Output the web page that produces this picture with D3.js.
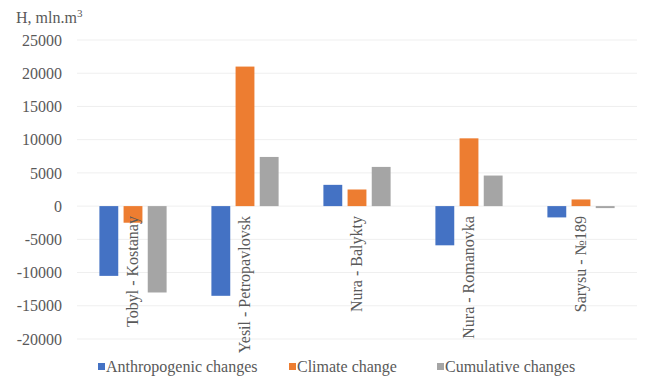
<!DOCTYPE html>
<html>
<head>
<meta charset="utf-8">
<script src="https://cdn.jsdelivr.net/npm/d3@7"></script>
<style>
  body { margin: 0; background: #fff; }
  svg { display: block; }
</style>
</head>
<body>
<svg id="chart" width="656" height="377"></svg>
<script>
// Water-resource change by river gauging station, mln. m³
const stations = ["Tobyl - Kostanay", "Yesil - Petropavlovsk", "Nura - Balykty", "Nura - Romanovka", "Sarysu - №189"];
const seriesNames = ["Anthropogenic changes", "Climate change", "Cumulative changes"];
const anthropogenic = [-10500, -13500, 3200, -5900, -1700];
const climate = [-2500, 21000, 2500, 10200, 1000];
const cumulative = [-13000, 7400, 5900, 4600, -300];
const yTicks = [25000, 20000, 15000, 10000, 5000, 0, -5000, -10000, -15000, -20000];
const colors = ["#4472C4", "#ED7D31", "#A5A5A5"];

const FONT = "'Times New Roman', Tinos, 'Liberation Serif', 'Nimbus Roman', 'Noto Serif', 'DejaVu Serif', FreeSerif, serif";
const values = [anthropogenic, climate, cumulative];
const svg = d3.select("#chart").style("font-family", FONT);
const plot = { left: 77, right: 637, top: 40, bottom: 339 };

const x = d3.scaleBand().domain(stations).range([plot.left, plot.right]).paddingInner(0.4).paddingOuter(0.2);
const xs = d3.scaleBand().domain(seriesNames).range([0, x.bandwidth()]).paddingInner(0.22);
const y = d3.scaleLinear().domain([-20000, 25000]).range([plot.bottom, plot.top]);

// horizontal gridlines
svg.append("g")
  .selectAll("line").data(yTicks).join("line")
  .attr("x1", plot.left).attr("x2", plot.right)
  .attr("y1", d => y(d)).attr("y2", d => y(d))
  .attr("stroke", "#efefef").attr("stroke-width", 1);

// y axis labels
const yAxis = d3.axisLeft(y).tickValues(yTicks).tickSize(0).tickPadding(15).tickFormat(d => String(d));
const ga = svg.append("g").attr("transform", `translate(${plot.left},0)`).call(yAxis);
ga.attr("font-family", null).style("font-family", FONT);
ga.select(".domain").remove();
ga.selectAll("text")
  .style("font-family", FONT)
  .attr("font-size", 16).attr("fill", "#595959");

// bars
const groups = svg.append("g").selectAll("g").data(stations).join("g")
  .attr("transform", d => `translate(${x(d)},0)`);
groups.selectAll("rect")
  .data((d, i) => seriesNames.map((s, k) => ({ s, v: values[k][i], k })))
  .join("rect")
  .attr("x", d => xs(d.s))
  .attr("width", xs.bandwidth())
  .attr("y", d => y(Math.max(0, d.v)))
  .attr("height", d => Math.max(1, Math.abs(y(d.v) - y(0))))
  .attr("fill", d => colors[d.k]);

// rotated category labels under the zero line
svg.append("g").selectAll("text").data(stations).join("text")
  .attr("transform", d => `translate(${x(d) + x.bandwidth() / 2 + 5},${y(0) + 10}) rotate(-90)`)
  .attr("text-anchor", "end")
  .style("font-family", FONT)
  .attr("font-size", 16)
  .attr("fill", "#595959")
  .text(d => d);

// axis title
svg.append("text").attr("x", 16).attr("y", 23)
  .style("font-family", FONT)
  .attr("font-size", 16).attr("fill", "#595959")
  .html('H, mln.m<tspan dy="-6" font-size="11">3</tspan>');

// legend
const legendX = [98, 289, 437];
const lg = svg.append("g").selectAll("g").data(seriesNames).join("g")
  .attr("transform", (d, i) => `translate(${legendX[i]},372)`);
lg.append("rect").attr("x", 0).attr("y", -9).attr("width", 7).attr("height", 7)
  .attr("fill", (d, i) => colors[i]);
lg.append("text").attr("x", 8).attr("y", 0)
  .style("font-family", FONT)
  .attr("font-size", 16).attr("fill", "#595959")
  .text(d => d);
</script>
</body>
</html>
